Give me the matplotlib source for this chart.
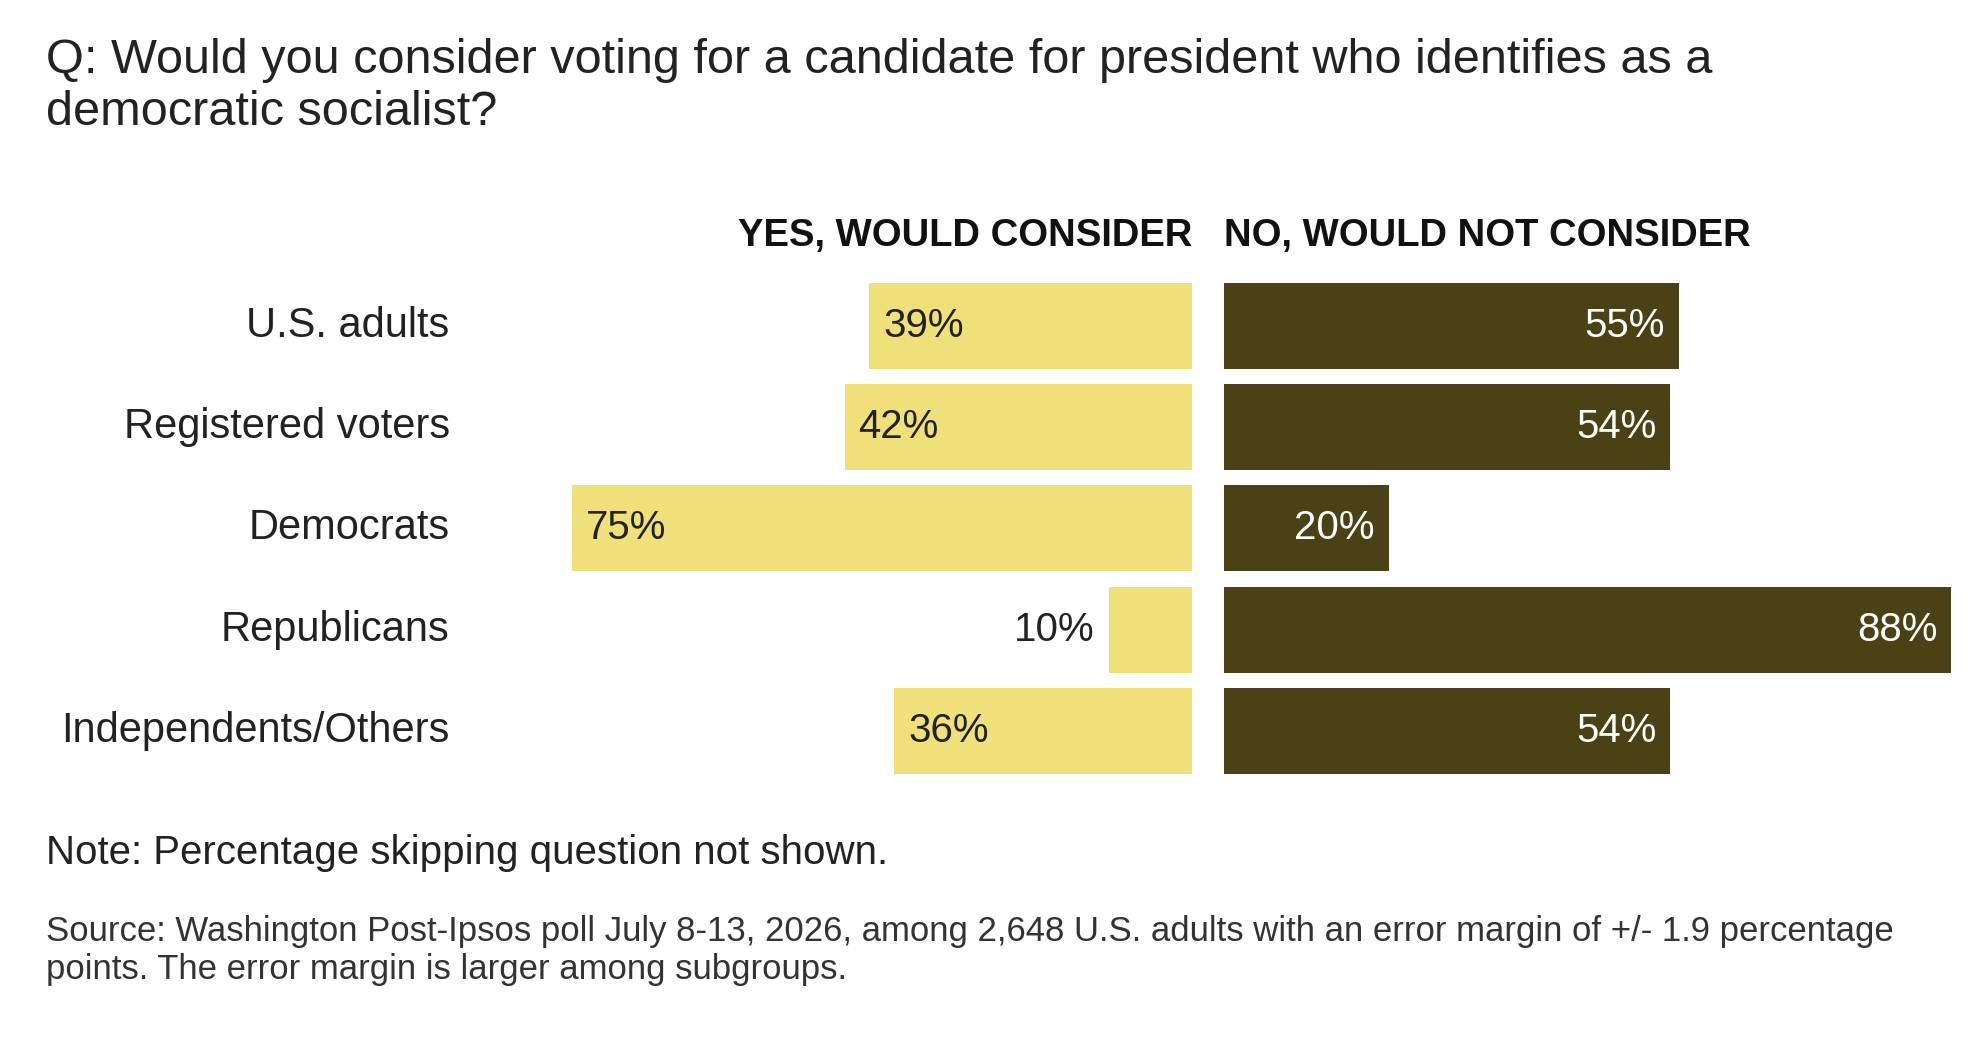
import matplotlib.pyplot as plt

groups = ["U.S. adults", "Registered voters", "Democrats", "Republicans", "Independents/Others"]
yes_vals = [39, 42, 75, 10, 36]
no_vals = [55, 54, 20, 88, 54]

YES_COLOR = "#f0e07a"
NO_COLOR = "#4a4214"
TEXT = "#222222"
plt.rcParams['font.family'] = ['Liberation Sans', 'DejaVu Sans']

W, H = 1560, 835
fig = plt.figure(figsize=(19.76, 10.58), dpi=100)

def fx(x):
    return x / W

def fy(y):
    return 1 - y / H

pxp = 6.53  # display px per percent
top, bot = 217, 617
axl = fig.add_axes([fx(941 - 80 * pxp), fy(bot), fx(80 * pxp), (bot - top) / H])
axr = fig.add_axes([fx(966), fy(bot), fx(90 * pxp), (bot - top) / H])
ypos = list(range(len(groups)))

axl.barh(ypos, yes_vals, height=0.85, color=YES_COLOR)
axl.set_xlim(80, 0)
axr.barh(ypos, no_vals, height=0.85, color=NO_COLOR)
axr.set_xlim(0, 90)
for ax in (axl, axr):
    ax.set_ylim(4.5, -0.5)
    ax.axis("off")

for i, v in enumerate(yes_vals):
    if v >= 15:
        axl.text(v - 1.7, i, f"{v}%", ha="left", va="center", fontsize=29, color=TEXT)
    else:
        axl.text(v + 1.8, i, f"{v}%", ha="right", va="center", fontsize=29, color=TEXT)
for i, g in enumerate(groups):
    fig.text(fx(355), fy(top + 40 + 80 * i), g, ha="right", va="center", fontsize=30, color=TEXT)
for i, v in enumerate(no_vals):
    axr.text(v - 1.7, i, f"{v}%", ha="right", va="center", fontsize=29, color="white")

fig.text(fx(941), fy(186), "YES, WOULD CONSIDER", ha="right", va="center",
         fontsize=27.5, fontweight="bold", color="#111111")
fig.text(fx(966), fy(186), "NO, WOULD NOT CONSIDER", ha="left", va="center",
         fontsize=27.5, fontweight="bold", color="#111111")

fig.text(fx(36), fy(30), "Q: Would you consider voting for a candidate for president who identifies as a\ndemocratic socialist?",
         ha="left", va="top", fontsize=35, color=TEXT, linespacing=1.2)
fig.text(fx(36), fy(673), "Note: Percentage skipping question not shown.", ha="left", va="center",
         fontsize=29, color=TEXT)
fig.text(fx(36), fy(722), "Source: Washington Post-Ipsos poll July 8-13, 2026, among 2,648 U.S. adults with an error margin of +/- 1.9 percentage\npoints. The error margin is larger among subgroups.",
         ha="left", va="top", fontsize=25, color="#333333", linespacing=1.2)

fig.savefig("out.png", dpi=100, facecolor="white")
